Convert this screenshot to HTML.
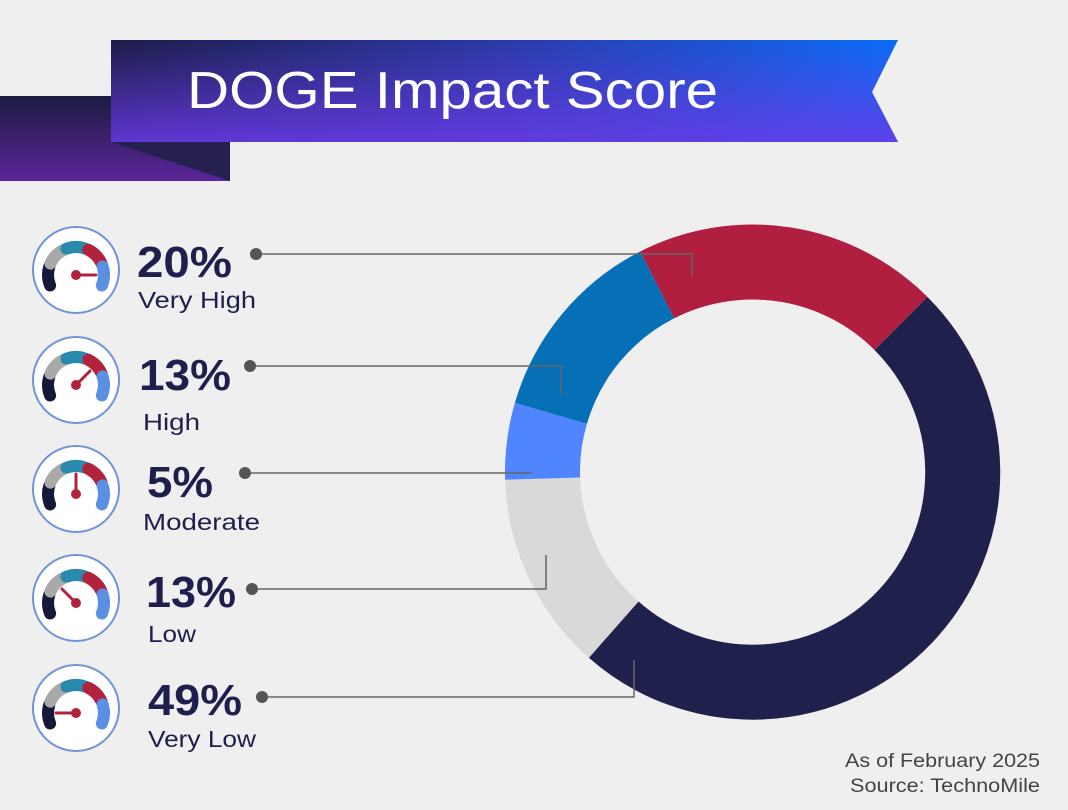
<!DOCTYPE html>
<html><head><meta charset="utf-8"><style>
html,body{margin:0;padding:0;background:#efeff0;}
body{width:1068px;height:810px;overflow:hidden;position:relative;font-family:"Liberation Sans",sans-serif;}
</style></head><body>
<svg width="1068" height="810" viewBox="0 0 1068 810" xmlns="http://www.w3.org/2000/svg" style="position:absolute;left:0;top:0">
<defs>
<linearGradient id="bh" x1="0" y1="0" x2="1" y2="0">
<stop offset="0" stop-color="#1c1c48"/><stop offset="0.5" stop-color="#2b3aa8"/><stop offset="1" stop-color="#0a6cf8"/>
</linearGradient>
<linearGradient id="bv" x1="0" y1="0" x2="0" y2="1">
<stop offset="0" stop-color="#6a3ae0" stop-opacity="0"/><stop offset="1" stop-color="#6a3ae8" stop-opacity="0.85"/>
</linearGradient>
<linearGradient id="tail" x1="0" y1="0" x2="0" y2="1">
<stop offset="0" stop-color="#1c1c40"/><stop offset="1" stop-color="#5a259a"/>
</linearGradient>
<g id="gauge">
<circle cx="0" cy="0" r="43" fill="#fff" stroke="#6f95d6" stroke-width="2"/>
<g fill="none" stroke-width="12" transform="translate(0,5)">
<path d="M-25.9 10.5 A28 28 0 0 1 -26.6 -8.6" stroke="#16183a"/>
<path d="M-25.6 -11.4 A28 28 0 0 1 -12.3 -25.2" stroke="#a9a9a9"/>
<path d="M-9.6 -26.3 A28 28 0 0 1 9.6 -26.3" stroke="#2a8aae"/>
<path d="M12.3 -25.2 A28 28 0 0 1 25.6 -11.4" stroke="#b0233c"/>
<path d="M26.6 -8.6 A28 28 0 0 1 25.9 10.5" stroke="#5a8fe2"/>
</g>
</g>
</defs>
<polygon points="0,96 230,96 230,181 0,181" fill="url(#tail)"/>
<polygon points="111,142 230,142 230,181" fill="#25204f"/>
<polygon points="111,40 898,40 872,92 898,142 111,142" fill="url(#bh)"/>
<polygon points="111,40 898,40 872,92 898,142 111,142" fill="url(#bv)"/>
<text x="187" y="108" font-size="52" fill="#fff" textLength="531" lengthAdjust="spacingAndGlyphs">DOGE Impact Score</text>
<g fill="none" stroke-width="75">
<path d="M657.2 284.9 A210 210 0 0 1 901 323.5" stroke="#b01f3f"/>
<path d="M901 323.5 A210 210 0 0 1 613.7 629.6" stroke="#20204c"/>
<path d="M613.7 629.6 A210 210 0 0 1 542.6 478.6" stroke="#d9d9d9"/>
<path d="M542.6 478.6 A210 210 0 0 1 550.9 413.4" stroke="#4f86ff"/>
<path d="M550.9 413.4 A210 210 0 0 1 657.2 284.9" stroke="#076fb5"/>
</g>
<g stroke="#666" stroke-width="1.5" fill="none">
<polyline points="256,254 692,254 692,276"/>
<polyline points="250,366 561,366 561,394"/>
<polyline points="245,473 532,473"/>
<polyline points="252,589 546,589 546,555"/>
<polyline points="262,697 634,697 634,660"/>
</g>
<g fill="#555">
<circle cx="256" cy="254" r="6"/><circle cx="250" cy="366" r="6"/><circle cx="245" cy="473" r="6"/><circle cx="252" cy="589" r="6"/><circle cx="262" cy="697" r="6"/>
</g>
<g stroke="#b0233c" stroke-width="3" stroke-linecap="round" fill="#b0233c">
<g transform="translate(76,270)"><use href="#gauge"/><line x1="0" y1="5" x2="20" y2="5"/><circle cx="0" cy="5" r="3.5"/></g>
<g transform="translate(76,380)"><use href="#gauge"/><line x1="0" y1="5" x2="14" y2="-9"/><circle cx="0" cy="5" r="3.5"/></g>
<g transform="translate(76,489)"><use href="#gauge"/><line x1="0" y1="5" x2="0" y2="-15"/><circle cx="0" cy="5" r="3.5"/></g>
<g transform="translate(76,598)"><use href="#gauge"/><line x1="0" y1="5" x2="-14" y2="-9"/><circle cx="0" cy="5" r="3.5"/></g>
<g transform="translate(76,708)"><use href="#gauge"/><line x1="0" y1="5" x2="-20" y2="5"/><circle cx="0" cy="5" r="3.5"/></g>
</g>
<g fill="#1f1f4d" lengthAdjust="spacingAndGlyphs">
<text x="137" y="277" font-size="44" font-weight="bold" textLength="95" lengthAdjust="spacingAndGlyphs">20%</text>
<text x="138" y="308" font-size="23" textLength="118" lengthAdjust="spacingAndGlyphs">Very High</text>
<text x="139" y="390" font-size="44" font-weight="bold" textLength="92" lengthAdjust="spacingAndGlyphs">13%</text>
<text x="143" y="430" font-size="23" textLength="57" lengthAdjust="spacingAndGlyphs">High</text>
<text x="147" y="497" font-size="44" font-weight="bold" textLength="66" lengthAdjust="spacingAndGlyphs">5%</text>
<text x="143" y="530" font-size="23" textLength="117" lengthAdjust="spacingAndGlyphs">Moderate</text>
<text x="146" y="607" font-size="44" font-weight="bold" textLength="90" lengthAdjust="spacingAndGlyphs">13%</text>
<text x="148" y="642" font-size="23" textLength="48" lengthAdjust="spacingAndGlyphs">Low</text>
<text x="148" y="715" font-size="44" font-weight="bold" textLength="94" lengthAdjust="spacingAndGlyphs">49%</text>
<text x="148" y="747" font-size="23" textLength="108" lengthAdjust="spacingAndGlyphs">Very Low</text>
</g>
<g fill="#444" font-size="19">
<text x="845" y="767" textLength="195" lengthAdjust="spacingAndGlyphs">As of February 2025</text>
<text x="850" y="792" textLength="190" lengthAdjust="spacingAndGlyphs">Source: TechnoMile</text>
</g>
</svg>
</body></html>
